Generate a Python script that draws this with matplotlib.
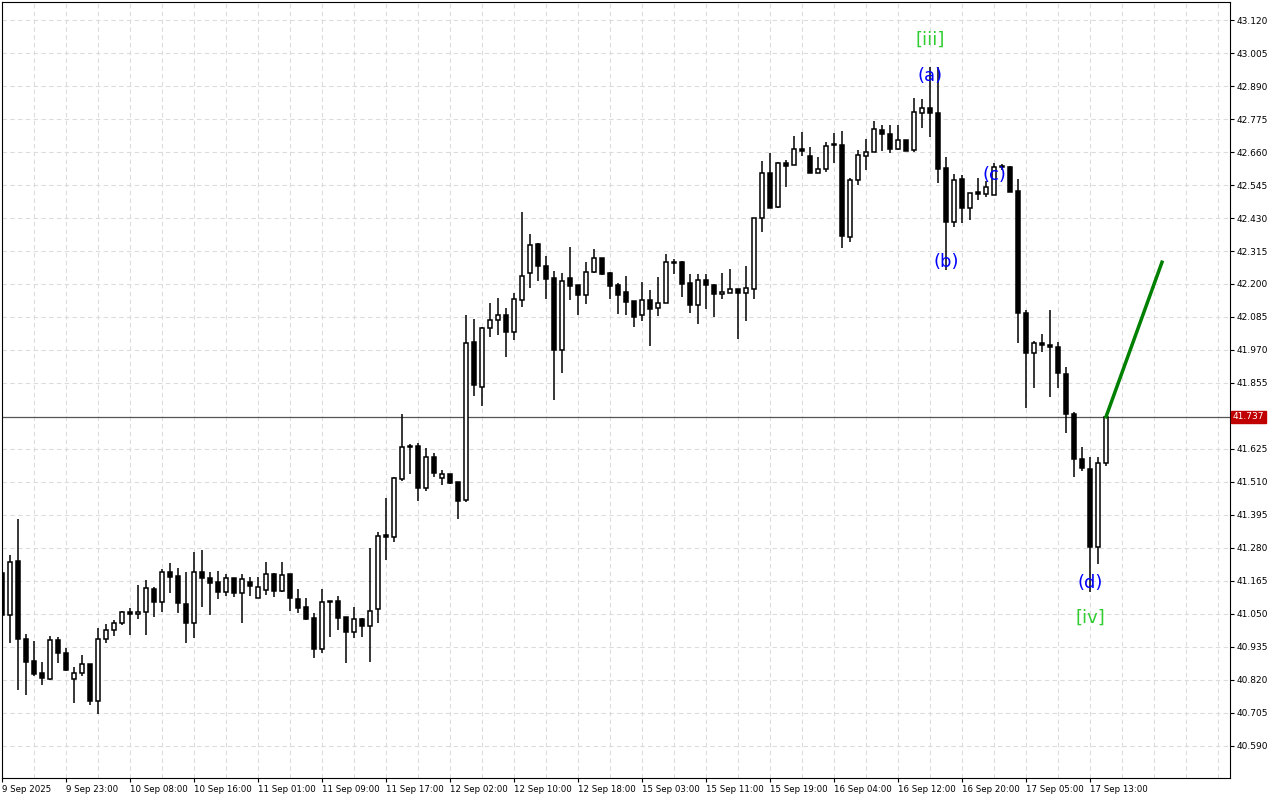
import matplotlib
matplotlib.use("Agg")
import matplotlib.pyplot as plt
import numpy as np

opens = [41.193,41.046,41.235,40.963,40.886,40.844,40.823,40.959,40.914,40.823,40.844,40.876,40.747,40.963,40.994,41.018,41.057,41.050,41.057,41.137,
 41.092,41.196,41.183,41.085,41.018,41.196,41.175,41.161,41.127,41.175,41.123,41.161,41.106,41.134,41.189,41.130,41.189,41.102,41.074,41.036,
 40.928,41.095,41.095,41.039,40.987,41.032,41.008,41.067,41.325,41.318,41.520,41.632,41.635,41.489,41.597,41.524,41.538,41.510,41.447,41.998,
 41.841,42.047,42.075,42.092,42.033,42.144,42.238,42.339,42.263,42.221,41.970,42.221,42.196,42.162,42.242,42.290,42.238,42.197,42.172,42.141,
 42.092,42.144,42.116,42.134,42.277,42.277,42.204,42.127,42.214,42.197,42.165,42.169,42.183,42.169,42.183,42.430,42.587,42.468,42.622,42.615,
 42.670,42.646,42.587,42.601,42.684,42.684,42.364,42.562,42.646,42.660,42.737,42.723,42.670,42.702,42.667,42.796,42.813,42.796,42.604,42.416,
 42.566,42.465,42.521,42.514,42.510,42.608,42.608,42.524,42.099,41.960,41.994,41.987,41.980,41.886,41.747,41.590,41.555,41.283,41.576]
highs = [41.193,41.256,41.381,40.980,40.956,40.883,40.973,40.970,40.931,40.865,40.907,40.876,41.001,41.015,41.029,41.060,41.071,41.151,41.168,41.144,
 41.207,41.228,41.210,41.196,41.266,41.273,41.196,41.200,41.189,41.175,41.189,41.179,41.179,41.231,41.193,41.231,41.189,41.137,41.106,41.053,
 41.137,41.095,41.113,41.039,41.074,41.036,41.280,41.336,41.454,41.527,41.747,41.642,41.646,41.628,41.611,41.552,41.538,41.510,42.092,42.078,
 42.050,42.134,42.151,42.116,42.169,42.451,42.374,42.343,42.298,42.245,42.238,42.329,42.196,42.277,42.322,42.290,42.242,42.203,42.228,42.141,
 42.207,42.179,42.224,42.305,42.287,42.280,42.235,42.235,42.235,42.200,42.238,42.252,42.183,42.263,42.430,42.629,42.656,42.625,42.632,42.716,
 42.730,42.677,42.643,42.695,42.726,42.733,42.569,42.667,42.705,42.768,42.754,42.754,42.754,42.702,42.848,42.845,42.956,42.956,42.643,42.583,
 42.580,42.517,42.569,42.559,42.622,42.618,42.611,42.566,42.110,42.001,42.026,42.110,41.998,41.911,41.754,41.632,41.597,41.597,41.737]
lows = [41.046,40.949,40.785,40.768,40.834,40.803,40.820,40.879,40.851,40.740,40.834,40.733,40.701,40.949,40.973,41.011,40.977,41.032,40.977,41.039,
 41.057,41.123,41.053,40.949,40.966,41.074,41.046,41.102,41.113,41.109,41.018,41.113,41.106,41.116,41.109,41.127,41.060,41.053,41.029,40.897,
 40.914,40.970,40.994,40.879,40.966,40.970,40.883,41.018,41.238,41.301,41.513,41.538,41.444,41.479,41.527,41.500,41.503,41.381,41.440,41.810,
 41.775,42.015,42.022,41.946,42.005,42.120,42.186,42.210,42.148,41.796,41.890,42.144,42.092,42.130,42.238,42.231,42.148,42.095,42.092,42.050,
 42.071,41.984,42.088,42.134,42.235,42.155,42.099,42.061,42.113,42.085,42.148,42.169,42.008,42.071,42.148,42.381,42.465,42.465,42.538,42.615,
 42.646,42.587,42.587,42.590,42.622,42.325,42.346,42.545,42.597,42.660,42.663,42.656,42.667,42.663,42.660,42.744,42.712,42.552,42.249,42.399,
 42.413,42.423,42.493,42.503,42.510,42.597,42.521,41.995,41.768,41.838,41.963,41.806,41.838,41.681,41.527,41.548,41.127,41.224,41.566]
closes = [41.046,41.231,40.963,40.883,40.841,40.827,40.959,40.914,40.855,40.844,40.876,40.747,40.963,40.994,41.018,41.057,41.050,41.057,41.140,41.092,
 41.196,41.179,41.088,41.018,41.196,41.175,41.158,41.127,41.175,41.123,41.172,41.147,41.144,41.189,41.130,41.186,41.106,41.071,41.032,40.928,
 41.092,41.092,41.036,40.987,41.032,41.008,41.060,41.322,41.318,41.524,41.632,41.635,41.489,41.597,41.541,41.538,41.507,41.444,41.994,41.848,
 42.047,42.075,42.092,42.033,42.148,42.228,42.336,42.263,42.217,41.970,42.210,42.193,42.162,42.242,42.290,42.235,42.193,42.162,42.137,42.085,
 42.144,42.113,42.134,42.277,42.273,42.200,42.127,42.214,42.197,42.165,42.172,42.183,42.169,42.186,42.430,42.587,42.465,42.622,42.611,42.670,
 42.663,42.587,42.601,42.681,42.684,42.367,42.562,42.649,42.660,42.740,42.723,42.670,42.702,42.663,42.799,42.813,42.796,42.601,42.416,42.562,
 42.465,42.517,42.514,42.538,42.608,42.608,42.521,42.099,41.960,41.994,41.987,41.980,41.890,41.747,41.590,41.559,41.283,41.576,41.737]

price_ticks = [43.120,43.005,42.890,42.775,42.660,42.545,42.430,42.315,42.200,42.085,41.970,41.855,
               41.625,41.510,41.395,41.280,41.165,41.050,40.935,40.820,40.705,40.590]
time_labels = ["9 Sep 2025","9 Sep 23:00","10 Sep 08:00","10 Sep 16:00","11 Sep 01:00","11 Sep 09:00",
               "11 Sep 17:00","12 Sep 02:00","12 Sep 10:00","12 Sep 18:00","15 Sep 03:00","15 Sep 11:00",
               "15 Sep 19:00","16 Sep 04:00","16 Sep 12:00","16 Sep 20:00","17 Sep 05:00","17 Sep 13:00"]
current_price = 41.737
projection = [(138, 41.737), (145, 42.276)]
wave_labels = [(116, 43.050, "[iii]", "#32cd32"), (116, 42.925, "(a)", "#0000ff"),
               (118, 42.277, "(b)", "#0000ff"), (124, 42.580, "(c)", "#0000ff"),
               (136, 41.158, "(d)", "#0000ff"), (136, 41.036, "[iv]", "#32cd32")]

fig = plt.figure(figsize=(12.8, 8.0), dpi=100)
ax = fig.add_axes([2/1280, 22/800, 1228/1280, 776/800])
n = len(opens)
x = np.arange(n)
o = np.array(opens); c = np.array(closes); h = np.array(highs); l = np.array(lows)

for i in range(0, 154, 4):
    ax.axvline(i, color="#dcdcdc", ls=(0, (4, 3)), lw=0.8, zorder=0)
for p in price_ticks:
    ax.axhline(p, color="#dcdcdc", ls=(0, (4, 3)), lw=0.8, zorder=0)

ax.vlines(x, l, h, color="black", lw=1.1, zorder=2)
up = c >= o
bottoms = np.minimum(o, c)
heights = np.maximum(np.abs(c - o), 0.004)
ax.bar(x[up], heights[up], bottom=bottoms[up], width=0.6, facecolor="white", edgecolor="black", lw=1.1, zorder=3)
ax.bar(x[~up], heights[~up], bottom=bottoms[~up], width=0.6, facecolor="black", edgecolor="black", lw=1.1, zorder=3)

ax.axhline(current_price, color="#555555", lw=0.9, zorder=1)
px, py = zip(*projection)
ax.plot(px, py, color="#008000", lw=2.5, zorder=4)
for xi, yi, t, col in wave_labels:
    ax.text(xi, yi, t, color=col, fontsize=13, ha="center", va="center", zorder=5)

ax.set_xlim(0, 153.5)
ax.set_ylim(40.478, 43.183)
ax.yaxis.tick_right()
ax.set_yticks(price_ticks)
ax.set_yticklabels([f"{p:.3f}" for p in price_ticks], fontsize=6.5)
ax.tick_params(axis="y", length=3, pad=2)
ax.set_xticks([8 * k for k in range(len(time_labels))])
ax.set_xticklabels(time_labels, fontsize=6.2, ha="left")
ax.tick_params(axis="x", length=3, pad=2)
for s in ax.spines.values():
    s.set_color("black")
ax.text(1.002, (current_price - 40.478) / (43.183 - 40.478), f"{current_price:.3f}",
        transform=ax.transAxes, fontsize=6.5, color="white", va="center", ha="left",
        bbox=dict(boxstyle="square,pad=0.2", fc="#c00000", ec="#c00000"))
fig.savefig("out.png", dpi=100)
